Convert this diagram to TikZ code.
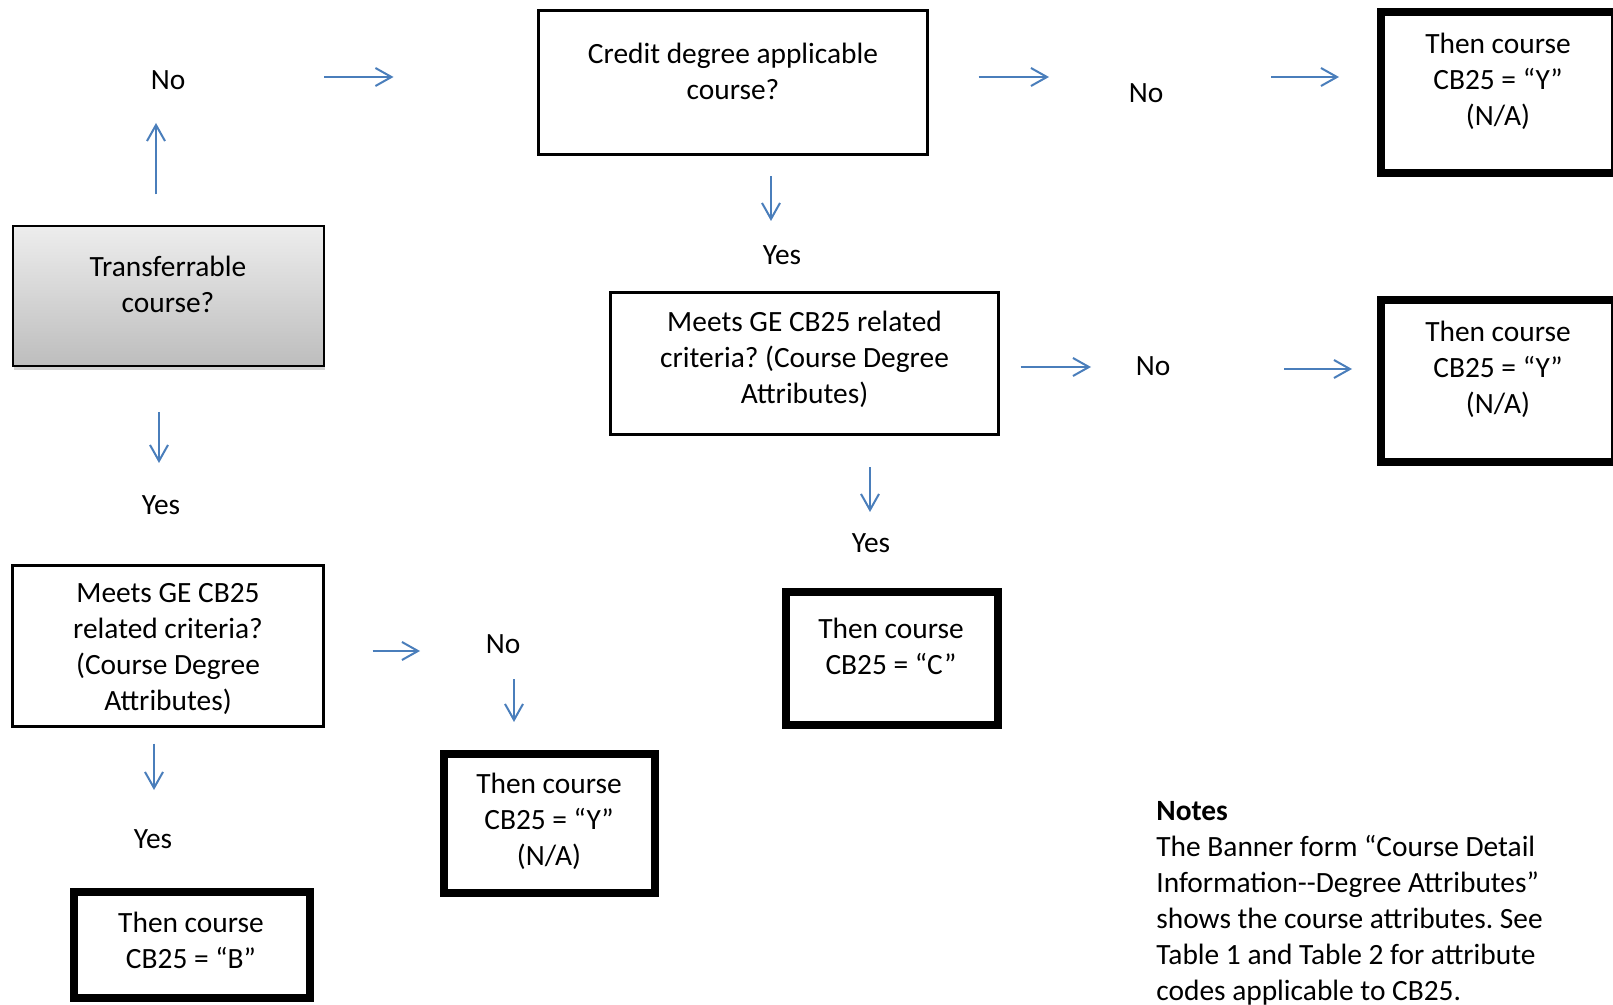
\documentclass[tikz,border=0pt]{standalone}
\usepackage{fontspec}
\setmainfont{Carlito}
\frenchspacing
\usetikzlibrary{calc,shadows,arrows.meta}
\definecolor{flowblue}{HTML}{4A7EBB}
\definecolor{shadetop}{HTML}{EDEDED}
\definecolor{shadebot}{HTML}{BDBDBD}
\tikzset{
  txt/.style={font=\fontsize{14.7}{18}\selectfont, align=center, inner sep=0pt},
  qbox/.style={draw, line width=1.5pt, inner sep=0pt},
  endbox/.style={draw, line width=4pt, inner sep=0pt},
  flow/.style={draw=flowblue, line width=1pt, -{Straight Barb[length=8pt,width=9pt]}},
}
\begin{document}
\begin{tikzpicture}[x=0.5pt,y=-0.5pt]
  \useasboundingbox (0,0) rectangle (1613,1005);
  % boxes
  \node[draw, line width=1pt, inner sep=0pt, top color=shadetop, bottom color=shadebot,
    drop shadow={shadow xshift=0.6pt, shadow yshift=-2pt, opacity=0.35},
    minimum width=155.5pt, minimum height=70pt] (tr) at (168,296.5) {};
  \node[qbox, minimum width=194.5pt, minimum height=72pt] (cr) at (733,82.5) {};
  \node[qbox, minimum width=194pt, minimum height=71pt] (gem) at (804.5,363.5) {};
  \node[qbox, minimum width=155.5pt, minimum height=80.5pt] (gel) at (168,646) {};
  \node[endbox, minimum width=117pt, minimum height=80.5pt] (ny1) at (1498,92.5) {};
  \node[endbox, minimum width=117pt, minimum height=81pt] (ny2) at (1498,381) {};
  \node[endbox, minimum width=106pt, minimum height=66.5pt] (cc) at (892,658.5) {};
  \node[endbox, minimum width=105.5pt, minimum height=69.5pt] (ny3) at (549.5,823.5) {};
  \node[endbox, minimum width=118pt, minimum height=53pt] (cb) at (192,945) {};
  % box texts
  \node[txt] (trt) at (168,284) {Transferrable\\course?};
  \node[txt] (crt) at (733,71.5) {Credit degree applicable\\course?};
  \node[txt] (gemt) at (804.5,359.5) {Meets GE CB25 related\\criteria? (Course Degree\\Attributes)};
  \node[txt] (gelt) at (168,649) {Meets GE CB25\\related criteria?\\(Course Degree\\Attributes)};
  \node[txt] (ny1t) at (1498,81.5) {Then course\\CB25 = “Y”\\(N/A)};
  \node[txt] (ny2t) at (1498,369.5) {Then course\\CB25 = “Y”\\(N/A)};
  \node[txt] (cct) at (891,646) {Then course\\CB25 = “C”};
  \node[txt] (ny3t) at (549,821) {Then course\\CB25 = “Y”\\(N/A)};
  \node[txt] (cbt) at (191,940) {Then course\\CB25 = “B”};
  % answers
  \node[txt] (no1) at (168,80) {No};
  \node[txt] (yes1) at (161,505) {Yes};
  \node[txt] (yes2) at (782,255) {Yes};
  \node[txt] (no2) at (1146,93) {No};
  \node[txt] (no3) at (1153,366) {No};
  \node[txt] (yes3) at (871,543) {Yes};
  \node[txt] (no4) at (503,644) {No};
  \node[txt] (yes4) at (153,839) {Yes};
  % arrows
  \draw[flow] ($(tr.north)+(-12,-31)$) -- ($(no1)+(-12,43)$);
  \draw[flow] ($(no1)+(156,-3)$) -- ($(cr.west)+(-143.5,-5.5)$);
  \draw[flow] ($(cr.south)+(38,20.5)$) -- ($(yes2)+(-11,-34)$);
  \draw[flow] ($(cr.east)+(49.5,-5.5)$) -- ($(no2)+(-97,-16)$);
  \draw[flow] ($(no2)+(125,-16)$) -- ($(ny1.west)+(-38,-15.5)$);
  \draw[flow] ($(tr.south)+(-9,44.5)$) -- ($(yes1)+(-2,-42)$);
  \draw[flow] ($(gem.east)+(20.5,3.5)$) -- ($(no3)+(-62,1)$);
  \draw[flow] ($(no3)+(131,3)$) -- ($(ny2.west)+(-25,-12)$);
  \draw[flow] ($(gem.south)+(65.5,31.5)$) -- ($(yes3)+(-1,-31)$);
  \draw[flow] ($(gel.east)+(47.5,5)$) -- ($(no4)+(-83,7)$);
  \draw[flow] ($(no4)+(11,35)$) -- ($(ny3.north)+(-35.5,-28)$);
  \draw[flow] ($(gel.south)+(-14,15.5)$) -- ($(yes4)+(1,-49)$);
  % notes
  \node[txt, align=left, anchor=north west] (notes) at (1156,801)
    {\textbf{Notes}\\The Banner form “Course Detail\\Information-{}-Degree Attributes”\\shows the course attributes. See\\Table 1 and Table 2 for attribute\\codes applicable to CB25.};
\end{tikzpicture}
\end{document}
